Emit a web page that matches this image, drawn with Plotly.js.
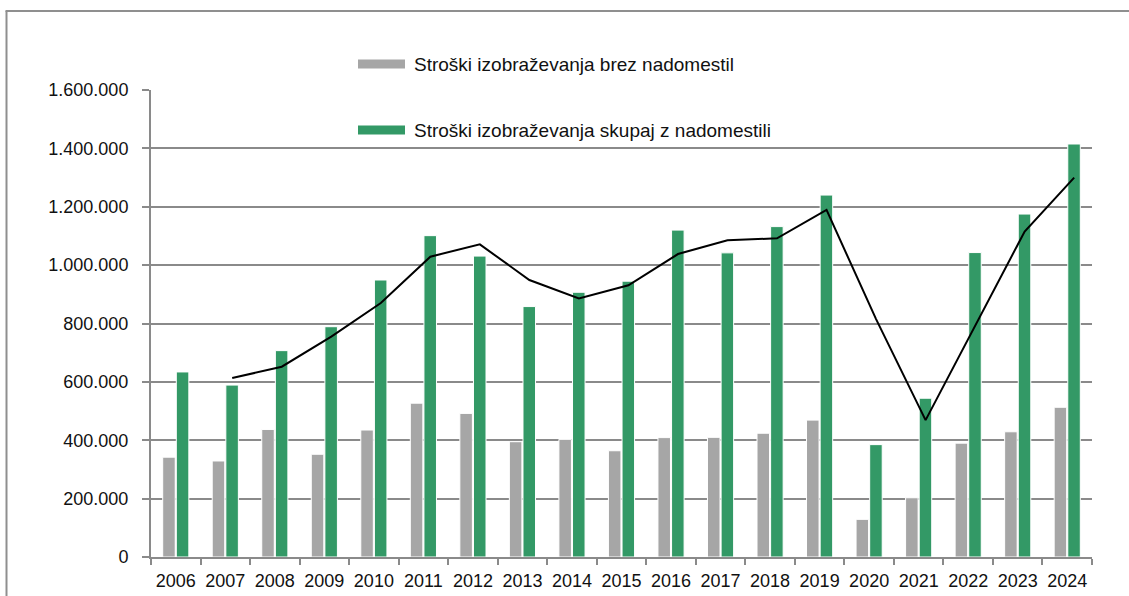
<!DOCTYPE html>
<html>
<head>
<meta charset="utf-8">
<script src="https://cdn.plot.ly/plotly-3.0.1.min.js"></script>
<style>html,body{margin:0;padding:0;background:#fff;}#chart{width:1129px;height:596px;}</style>
</head>
<body>
<div id="chart"></div>
<script>
// ---- data ----
const years = ["2006","2007","2008","2009","2010","2011","2012","2013","2014","2015","2016","2017","2018","2019","2020","2021","2022","2023","2024"];
const brezNadomestil = [342000,329000,437000,352000,435000,527000,492000,395000,403000,364000,409000,410000,424000,469000,129000,203000,390000,429000,513000];
const skupajZNadomestili = [634000,589000,707000,789000,949000,1101000,1031000,858000,907000,945000,1120000,1042000,1132000,1240000,385000,544000,1043000,1175000,1415000];
// trend line, 2007-2024
const trendYears = ["2007","2008","2009","2010","2011","2012","2013","2014","2015","2016","2017","2018","2019","2020","2021","2022","2023","2024"];
const trendValues = [613000,652000,755000,870000,1029000,1071000,949000,886000,931000,1038000,1085000,1092000,1189000,815000,469000,794000,1115000,1300000];
const legendLabels = ["Stroški izobraževanja brez nadomestil","Stroški izobraževanja skupaj z nadomestili"];
const yTicks = [0,200000,400000,600000,800000,1000000,1200000,1400000,1600000];

// ---- layout helpers ----
const W = 1129, H = 596;
const mL = 151, mR = 37, mT = 90, mB = 39;
const pw = W - mL - mR, ph = H - mT - mB;
const px2x = p => (p - mL) / pw;
const py2y = p => (H - mB - p) / ph;

const grey = "#a6a6a6", green = "#339966", axisGrey = "#8a8a8a";
const fontFam = "'Liberation Sans', Arial, sans-serif";

const idx = years.map((y, i) => i);
const greenOffset = 0.14;
const trendX = trendYears.map(y => years.indexOf(y) + greenOffset);

const traces = [
  {type: "bar", x: idx, y: brezNadomestil, name: legendLabels[0],
   marker: {color: grey, line: {color: "#ffffff", width: 1}}, hoverinfo: "y"},
  {type: "bar", x: idx, y: skupajZNadomestili, name: legendLabels[1],
   marker: {color: green, line: {color: "#ffffff", width: 1}}, hoverinfo: "y"},
  {type: "scatter", mode: "lines", x: trendX, y: trendValues, name: "trend",
   line: {color: "#000000", width: 2}, hoverinfo: "y"}
];

const shapes = [
  // outer frame (left and top)
  {type: "line", xref: "paper", yref: "paper", x0: px2x(6.5), x1: px2x(6.5), y0: py2y(11), y1: py2y(600), line: {color: "#8f8f8f", width: 2}},
  {type: "line", xref: "paper", yref: "paper", x0: px2x(5.5), x1: px2x(1135), y0: py2y(11), y1: py2y(11), line: {color: "#8f8f8f", width: 2}},
  // legend symbols
  {type: "rect", xref: "paper", yref: "paper", x0: px2x(358), x1: px2x(405), y0: py2y(68.5), y1: py2y(59.5), fillcolor: grey, line: {width: 0}},
  {type: "rect", xref: "paper", yref: "paper", x0: px2x(358), x1: px2x(405), y0: py2y(134.5), y1: py2y(125.5), fillcolor: green, line: {width: 0}}
];

const annotations = [
  {xref: "paper", yref: "paper", x: px2x(412), y: py2y(64), xanchor: "left", yanchor: "middle", showarrow: false,
   text: legendLabels[0], font: {family: fontFam, size: 19, color: "#111111"}},
  {xref: "paper", yref: "paper", x: px2x(412), y: py2y(130), xanchor: "left", yanchor: "middle", showarrow: false,
   text: legendLabels[1], font: {family: fontFam, size: 19, color: "#111111"}}
];

const layout = {
  width: W, height: H,
  margin: {l: mL, r: mR, t: mT, b: mB, pad: 0},
  paper_bgcolor: "#ffffff", plot_bgcolor: "#ffffff",
  separators: ",.",
  showlegend: false,
  barmode: "group", bargap: 0.45, bargroupgap: 0.08,
  font: {family: fontFam, size: 18, color: "#111111"},
  xaxis: {
    range: [-0.5, years.length - 0.5], tickmode: "array", tickvals: idx, ticktext: years,
    ticks: "", showgrid: false, zeroline: false,
    showline: true, linecolor: axisGrey, linewidth: 2,
    tickfont: {family: fontFam, size: 18, color: "#111111"},
    minor: {ticks: "outside", tick0: 0.5, dtick: 1, ticklen: 6, tickcolor: axisGrey, tickwidth: 2, showgrid: false},
    ticklabelstandoff: 6, fixedrange: true
  },
  yaxis: {
    range: [0, 1600000], tickmode: "array", tickvals: yTicks, tickformat: ",d",
    ticks: "outside", ticklen: 7, tickcolor: axisGrey, tickwidth: 2,
    showgrid: true, gridcolor: axisGrey, gridwidth: 2, zeroline: false,
    showline: true, linecolor: axisGrey, linewidth: 2,
    tickfont: {family: fontFam, size: 18, color: "#111111"},
    ticklabelstandoff: 10, fixedrange: true
  },
  shapes: shapes,
  annotations: annotations
};

Plotly.newPlot("chart", traces, layout, {displayModeBar: false, staticPlot: true});
</script>
</body>
</html>
